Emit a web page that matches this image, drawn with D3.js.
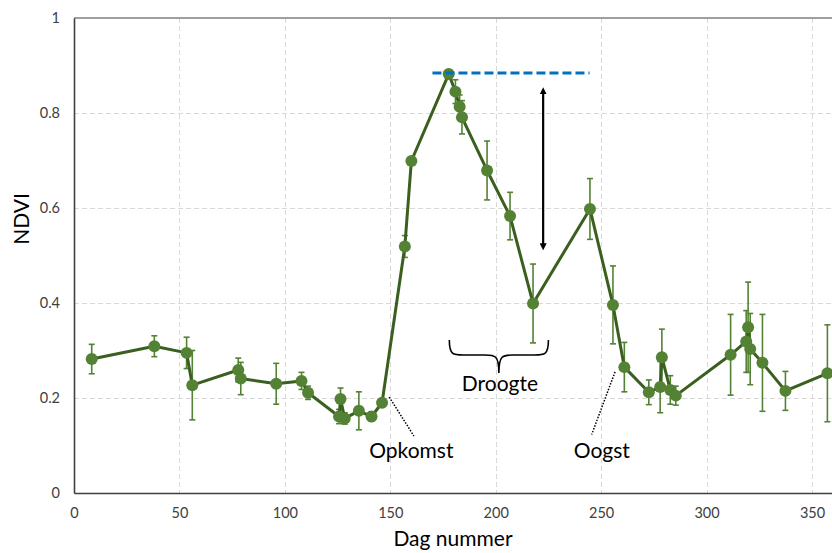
<!DOCTYPE html>
<html>
<head>
<meta charset="utf-8">
<script src="https://cdn.jsdelivr.net/npm/d3@7"></script>
<style>
  html, body { margin: 0; padding: 0; background: #fff; }
  svg { display: block; font-family: Lato, "Open Sans", sans-serif; }
</style>
</head>
<body>
<svg id="chart" width="832" height="553"></svg>
<script>
// NDVI per dag (dagnummer), met standaardafwijking als foutbalk
const days = [8.4, 38.1, 53.4, 56.1, 77.9, 79.1, 95.9, 107.9, 111.0, 125.7, 126.4, 128.4,
  135.1, 141.1, 146.1, 156.9, 160.0, 177.7, 180.9, 182.9, 184.0, 195.9, 206.8, 217.7,
  244.7, 255.6, 261.0, 272.6, 278.0, 278.8, 282.8, 285.4, 311.4, 318.8, 319.7, 320.7,
  326.5, 337.4, 357.3];
const ndvi = [0.282, 0.309, 0.295, 0.227, 0.259, 0.241, 0.230, 0.236, 0.211, 0.161, 0.198, 0.157,
  0.173, 0.161, 0.190, 0.519, 0.699, 0.882, 0.845, 0.813, 0.791, 0.679, 0.583, 0.399,
  0.598, 0.396, 0.265, 0.212, 0.223, 0.286, 0.217, 0.205, 0.291, 0.319, 0.349, 0.303,
  0.274, 0.215, 0.252];
const sd = [0.031, 0.022, 0.033, 0.073, 0.025, 0.034, 0.043, 0.018, 0.014, 0.015, 0.023, 0.012,
  0.040, 0.010, 0.008, 0.023, 0.008, 0.005, 0.025, 0.025, 0.035, 0.062, 0.050, 0.083,
  0.064, 0.082, 0.052, 0.026, 0.054, 0.059, 0.030, 0.020, 0.085, 0.065, 0.095, 0.075,
  0.102, 0.041, 0.102];

const xTicks = [0, 50, 100, 150, 200, 250, 300, 350];
const yTicks = [0, 0.2, 0.4, 0.6, 0.8, 1];

// Annotaties in datacoördinaten
const peakLine = { x0: 170, x1: 244.5, y: 0.884 };
const dropArrow = { x: 222.5, y0: 0.855, y1: 0.510 };
const droughtBrace = { x0: 178, x1: 225, y: 0.322 };
const labels = [
  { text: "Droogte", x: 202, y: 0.215 },
  { text: "Opkomst", x: 160, y: 0.074 },
  { text: "Oogst", x: 250.3, y: 0.074 }
];
const leaders = [
  { x0: 149.5, y0: 0.202, x1: 161.2, y1: 0.120 },
  { x0: 256.6, y0: 0.255, x1: 245.5, y1: 0.123 }
];

const data = days.map((d, i) => ({ day: d, v: ndvi[i], e: sd[i] }));

const svg = d3.select("#chart");
const margin = { left: 74, top: 18, bottom: 60 };
const height = 553;
const x = d3.scaleLinear().domain([0, 365]).range([margin.left, margin.left + 365 * (738 / 350)]);
const y = d3.scaleLinear().domain([0, 1]).range([height - margin.bottom, margin.top]);

const plotRight = x(365);

// Rasterlijnen
const grid = svg.append("g").attr("stroke", "#d9d9d9").attr("stroke-width", 1)
  .attr("stroke-dasharray", "5,3");
grid.selectAll("line.h").data(yTicks.filter(t => t > 0 && t < 1)).join("line")
  .attr("x1", margin.left).attr("x2", plotRight)
  .attr("y1", d => Math.round(y(d)) + 0.5).attr("y2", d => Math.round(y(d)) + 0.5);
grid.selectAll("line.v").data(xTicks.filter(t => t > 0)).join("line")
  .attr("y1", y(1)).attr("y2", y(0))
  .attr("x1", d => Math.round(x(d)) + 0.5).attr("x2", d => Math.round(x(d)) + 0.5);

// Kader bovenaan
svg.append("line").attr("x1", margin.left).attr("x2", plotRight)
  .attr("y1", y(1)).attr("y2", y(1)).attr("stroke", "#7f7f7f").attr("stroke-width", 1.5);

// Assen
const xAxis = svg.append("g").attr("transform", `translate(0,${y(0)})`)
  .call(d3.axisBottom(x).tickValues(xTicks).tickSize(0).tickPadding(15).tickFormat(d3.format("d")));
const yAxis = svg.append("g").attr("transform", `translate(${margin.left},0)`)
  .call(d3.axisLeft(y).tickValues(yTicks).tickSize(0).tickPadding(14).tickFormat(d => d3.format("")(d)));
[xAxis, yAxis].forEach(a => {
  a.select(".domain").attr("stroke", "#404040").attr("stroke-width", 1.6);
  a.selectAll("text").attr("font-size", 14.5).attr("fill", "#404040")
    .attr("font-family", "Lato, 'Open Sans', sans-serif");
});

// Astitels
svg.append("text").attr("x", 453).attr("y", 546).attr("text-anchor", "middle")
  .attr("font-size", 21).attr("fill", "#000").text("Dag nummer");
svg.append("text").attr("transform", "translate(29,219) rotate(-90)").attr("text-anchor", "middle")
  .attr("font-size", 21).attr("fill", "#000").text("NDVI");

// Foutbalken
const errG = svg.append("g").attr("stroke", "#548235").attr("stroke-width", 1.6).attr("fill", "none");
data.forEach(d => {
  const cx = x(d.day), yt = y(d.v + d.e), yb = y(d.v - d.e);
  errG.append("line").attr("x1", cx).attr("x2", cx).attr("y1", yt).attr("y2", yb);
  errG.append("line").attr("x1", cx - 3).attr("x2", cx + 3).attr("y1", yt).attr("y2", yt);
  errG.append("line").attr("x1", cx - 3).attr("x2", cx + 3).attr("y1", yb).attr("y2", yb);
});

// Lijn
svg.append("path").datum(data)
  .attr("d", d3.line().x(d => x(d.day)).y(d => y(d.v)))
  .attr("fill", "none").attr("stroke", "#3a5f1f").attr("stroke-width", 3)
  .attr("stroke-linejoin", "round");

// Punten
svg.append("g").selectAll("circle").data(data).join("circle")
  .attr("cx", d => x(d.day)).attr("cy", d => y(d.v)).attr("r", 6)
  .attr("fill", "#548235");

// Horizontale referentielijn op de piek
svg.append("line")
  .attr("x1", x(peakLine.x0)).attr("x2", x(peakLine.x1))
  .attr("y1", y(peakLine.y)).attr("y2", y(peakLine.y))
  .attr("stroke", "#0070c0").attr("stroke-width", 3).attr("stroke-dasharray", "9,4");

// Dubbele pijl
const defs = svg.append("defs");
defs.append("marker").attr("id", "arrowhead").attr("viewBox", "0 0 10 10")
  .attr("refX", 5).attr("refY", 5).attr("markerWidth", 3.2).attr("markerHeight", 3.2)
  .attr("orient", "auto-start-reverse")
  .append("path").attr("d", "M0,0 L10,5 L0,10 Z").attr("fill", "#000");
svg.append("line")
  .attr("x1", x(dropArrow.x)).attr("x2", x(dropArrow.x))
  .attr("y1", y(dropArrow.y0) + 4).attr("y2", y(dropArrow.y1) - 4)
  .attr("stroke", "#000").attr("stroke-width", 2.2)
  .attr("marker-start", "url(#arrowhead)").attr("marker-end", "url(#arrowhead)");

// Accolade onder de droogteperiode
(function () {
  const x0 = x(droughtBrace.x0), x1 = x(droughtBrace.x1), yt = y(droughtBrace.y);
  const xm = (x0 + x1) / 2, h = 15, tip = 33;
  const p = `M${x0},${yt} C${x0},${yt + h} ${x0 + 4},${yt + h} ${x0 + 14},${yt + h}
    L${xm - 14},${yt + h} C${xm - 4},${yt + h} ${xm},${yt + h} ${xm},${yt + tip}
    C${xm},${yt + h} ${xm + 4},${yt + h} ${xm + 14},${yt + h}
    L${x1 - 14},${yt + h} C${x1 - 4},${yt + h} ${x1},${yt + h} ${x1},${yt}`;
  svg.append("path").attr("d", p).attr("fill", "none").attr("stroke", "#000").attr("stroke-width", 1.6);
})();

// Verbindingslijntjes naar labels
svg.append("g").selectAll("line").data(leaders).join("line")
  .attr("x1", d => x(d.x0)).attr("y1", d => y(d.y0))
  .attr("x2", d => x(d.x1)).attr("y2", d => y(d.y1))
  .attr("stroke", "#000").attr("stroke-width", 1.5).attr("stroke-dasharray", "1.5,1.5");

// Labels
svg.append("g").selectAll("text").data(labels).join("text")
  .attr("x", d => x(d.x)).attr("y", d => y(d.y)).attr("text-anchor", "middle")
  .attr("font-size", 21).attr("fill", "#000").text(d => d.text);
</script>
</body>
</html>
